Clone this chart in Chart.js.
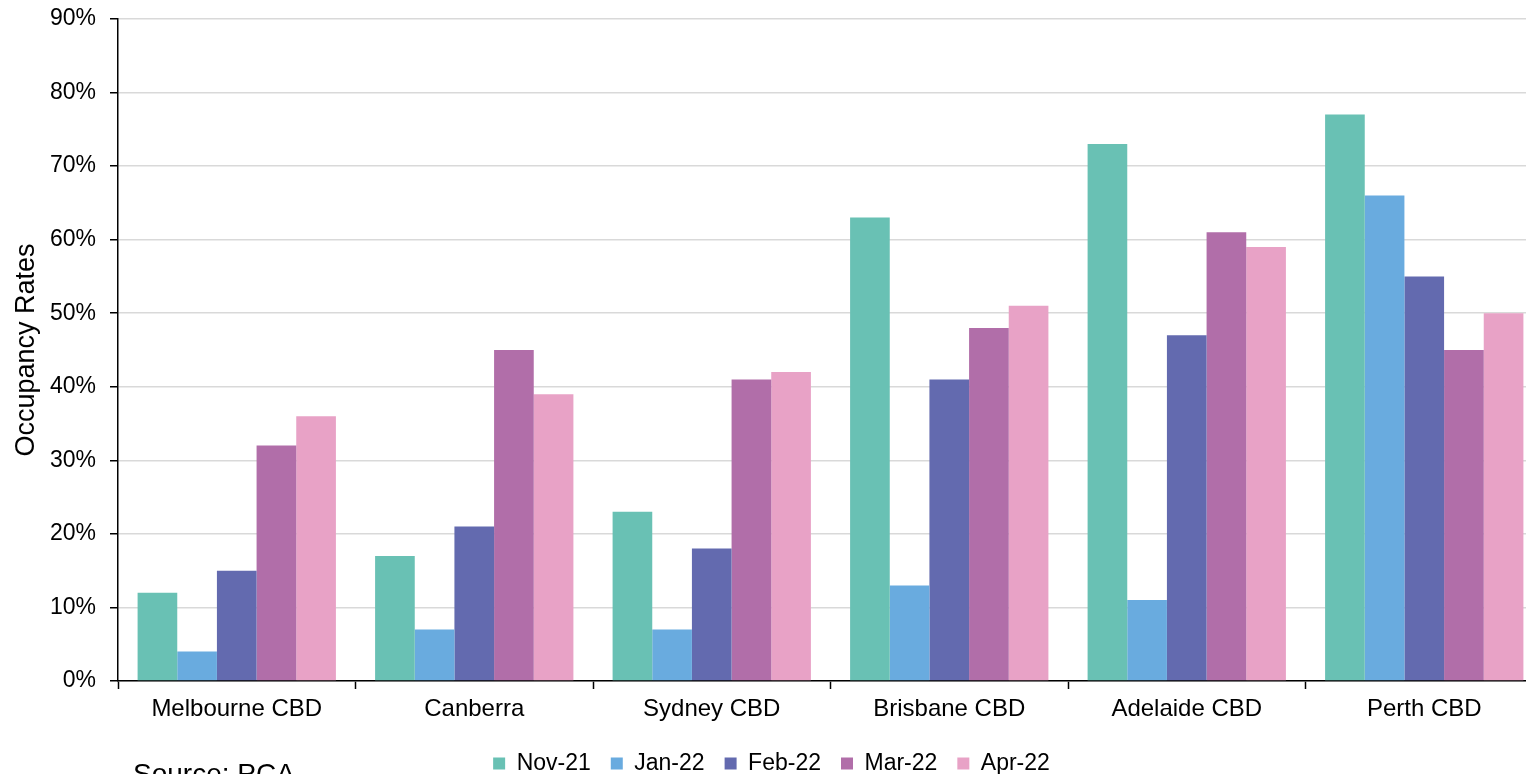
<!DOCTYPE html>
<html lang="en">
<head>
    <meta charset="UTF-8">
    <title>Occupancy Rates</title>
    <script src="https://cdn.jsdelivr.net/npm/chart.js"></script>
    <style>
        html, body {
            margin: 0;
            padding: 0;
            background: #fff;
            overflow: hidden;
            width: 1526px;
            height: 774px;
        }
        .wrap {
            position: relative;
            width: 1543px;
            height: 786px;
        }
        .source {
            position: absolute;
            left: 133px;
            top: 760px;
            font-family: "Liberation Sans", Arial, sans-serif;
            font-size: 28px;
            line-height: 1;
            color: #000;
        }
    </style>
</head>
<body>
    <div class="wrap">
        <canvas id="occChart" width="1543" height="786"></canvas>
        <div class="source">Source: PCA</div>
    </div>

    <script>
        const cities = ["Melbourne CBD", "Canberra", "Sydney CBD", "Brisbane CBD", "Adelaide CBD", "Perth CBD"];
        const periods = ["Nov-21", "Jan-22", "Feb-22", "Mar-22", "Apr-22"];
        const nov21 = [12, 17, 23, 63, 73, 77];
        const jan22 = [4, 7, 7, 13, 11, 66];
        const feb22 = [15, 21, 18, 41, 47, 55];
        const mar22 = [32, 45, 41, 48, 61, 45];
        const apr22 = [36, 39, 42, 51, 59, 50];
        const colors = ["#69c1b4", "#69abdf", "#636aaf", "#b16ea9", "#e8a2c6"];
        const series = [nov21, jan22, feb22, mar22, apr22];

        Chart.defaults.font.family = "'Liberation Sans', Arial, sans-serif";
        Chart.defaults.color = "#000";

        const ctx = document.getElementById("occChart").getContext("2d");
        new Chart(ctx, {
            type: "bar",
            data: {
                labels: cities,
                datasets: periods.map((p, i) => ({
                    label: p,
                    data: series[i],
                    backgroundColor: colors[i],
                    borderWidth: 0,
                    barPercentage: 1,
                    categoryPercentage: 0.835
                }))
            },
            options: {
                responsive: false,
                animation: false,
                layout: { padding: { top: 19, right: 0, bottom: 1, left: 0 } },
                plugins: {
                    tooltip: { enabled: false },
                    legend: {
                        position: "bottom",
                        labels: {
                            boxWidth: 12,
                            boxHeight: 12,
                            padding: 20,
                            font: { size: 23 }
                        }
                    }
                },
                scales: {
                    x: {
                        grid: {
                            offset: true,
                            drawOnChartArea: false,
                            tickLength: 8,
                            tickColor: "#000",
                            tickWidth: 1.5
                        },
                        border: { color: "#000", width: 1.5 },
                        ticks: { font: { size: 24 }, padding: 6, maxRotation: 0 },
                        afterFit: (scale) => { scale.height = 51; }
                    },
                    y: {
                        min: 0,
                        max: 90,
                        grid: {
                            color: "#d9d9d9",
                            lineWidth: 1.5,
                            tickLength: 8,
                            tickColor: "#000",
                            tickWidth: 1.5
                        },
                        border: { color: "#000", width: 1.5 },
                        ticks: {
                            stepSize: 10,
                            font: { size: 23 },
                            padding: 14,
                            callback: (v) => v + "%"
                        },
                        title: {
                            display: true,
                            text: "Occupancy Rates",
                            font: { size: 27 },
                            padding: { top: 10, bottom: 0 }
                        },
                        afterFit: (scale) => {
                            scale.width = 118;
                            scale.paddingTop = 0;
                            scale.paddingBottom = 0;
                        }
                    }
                }
            }
        });
    </script>
</body>
</html>
